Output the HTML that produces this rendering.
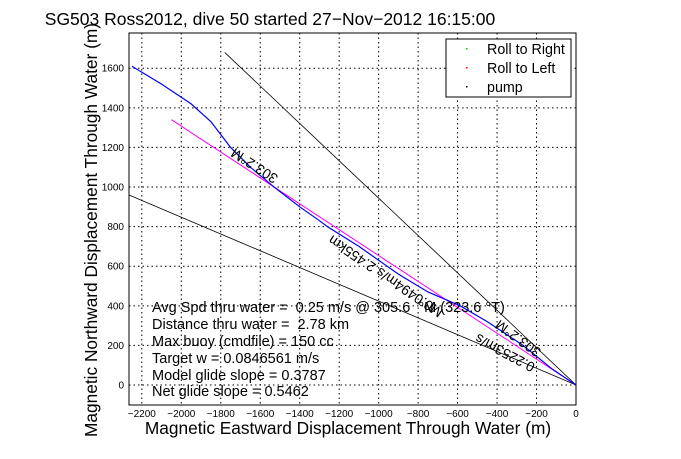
<!DOCTYPE html>
<html><head><meta charset="utf-8"><style>
body{margin:0;background:#fff;width:681px;height:454px;overflow:hidden}
svg text{font-family:"Liberation Sans",sans-serif}
</style></head><body>
<svg id="chart" width="681" height="454" xmlns="http://www.w3.org/2000/svg">
<g id="grid"></g>
<g id="series"></g>
<g id="ticks"></g>
<rect x="129" y="33" width="447" height="372" fill="none" stroke="#000" stroke-width="1"/>
<text x="270" y="25" font-size="17.5" text-anchor="middle">SG503 Ross2012, dive 50 started 27−Nov−2012 16:15:00</text>
<text x="348" y="434" font-size="17.3" text-anchor="middle">Magnetic Eastward Displacement Through Water (m)</text>
<text transform="translate(97,230) rotate(-90)" font-size="17.3" text-anchor="middle">Magnetic Northward Displacement Through Water (m)</text>
<g>
<rect x="446" y="39" width="125" height="58" fill="#fff" stroke="#000"/>
<rect x="466" y="48" width="1.5" height="1.5" fill="#0c0"/>
<text x="487" y="54" font-size="14.3">Roll to Right</text>
<rect x="466" y="67" width="1.5" height="1.5" fill="#f00"/>
<text x="487" y="73" font-size="14.3">Roll to Left</text>
<rect x="466" y="86" width="1.5" height="1.5" fill="#000"/>
<text x="487" y="92" font-size="14.3">pump</text>
</g>
<g font-size="14.5" style="white-space:pre">
<text x="152" y="312" xml:space="preserve">Avg Spd thru water =  0.25 m/s @ 305.6  °M (323.6 °T)</text>
<text x="152" y="329" xml:space="preserve">Distance thru water =  2.78 km</text>
<text x="152" y="346">Max buoy (cmdfile) = 150 cc</text>
<text x="152" y="363">Target w = 0.0846561 m/s</text>
<text x="152" y="380">Model glide slope = 0.3787</text>
<text x="152" y="396">Net glide slope = 0.5462</text>
</g>
<g font-size="14">
<text transform="translate(279,176) rotate(213)">303.2°M</text>
<text transform="translate(444,310) rotate(214)">M0.0494m/s 2.455km</text>
<text transform="translate(542,350) rotate(216)">303.2°M</text>
<text transform="translate(536,364) rotate(208)">0.2253m/s</text>
</g>
</svg>
<script>
const xTicks=[-2200,-2000,-1800,-1600,-1400,-1200,-1000,-800,-600,-400,-200,0];
const yTicks=[0,200,400,600,800,1000,1200,1400,1600];
const trackX=[-2250,-2100,-1950,-1850,-1750,-1650,-1530,-1400,-1300,-1260,-1100,-900,-750,-587,-450,-268,-120,0];
const trackY=[1610,1520,1420,1330,1200,1100,1000,900,830,800,700,560,470,400,320,200,80,0];
const modelX=[-2050,0];const modelY=[1340,0];
const line1X=[-1780,0];const line1Y=[1680,0];
const line2X=[-2265,0];const line2Y=[960,0];
const X0=129,X1=576,XMIN=-2265,XMAX=0,Y0=33,Y1=405,YMAX=1778,YMIN=-101;
const sx=v=>X0+(v-XMIN)/(XMAX-XMIN)*(X1-X0);
const sy=v=>Y1-(v-YMIN)/(YMAX-YMIN)*(Y1-Y0);
const NS="http://www.w3.org/2000/svg";
const grid=document.getElementById('grid'),ticks=document.getElementById('ticks'),ser=document.getElementById('series');
function mk(t,a,p){const e=document.createElementNS(NS,t);for(const k in a)e.setAttribute(k,a[k]);p.appendChild(e);return e;}
xTicks.forEach(v=>{const x=sx(v);
const g=mk('line',{x1:x,x2:x,y1:Y0,y2:Y1,stroke:'#000','stroke-dasharray':'1.5,3','stroke-width':1},grid);


const t=mk('text',{x:x,y:417,'font-size':10,'text-anchor':'middle'},ticks);t.textContent=v===0?'0':'−'+(-v);

});
yTicks.forEach(v=>{const y=sy(v);
const g=mk('line',{x1:X0,x2:X1,y1:y,y2:y,stroke:'#000','stroke-dasharray':'1.5,3','stroke-width':1},grid);


const t=mk('text',{x:124,y:y+3.5,'font-size':10,'text-anchor':'end'},ticks);t.textContent=v;

});
function poly(xs,ys,c,w,n){const p=mk('polyline',{points:xs.map((x,i)=>sx(x)+','+sy(ys[i])).join(' '),fill:'none',stroke:c,'stroke-width':w},ser);

}
poly(line1X,line1Y,'#000',0.8,'heading-line-upper');
poly(line2X,line2Y,'#000',0.8,'current-line-lower');
poly(modelX,modelY,'#f0f',1,'model-track');
poly(trackX,trackY,'#00f',1.2,'dive-track');
</script>
</body></html>
